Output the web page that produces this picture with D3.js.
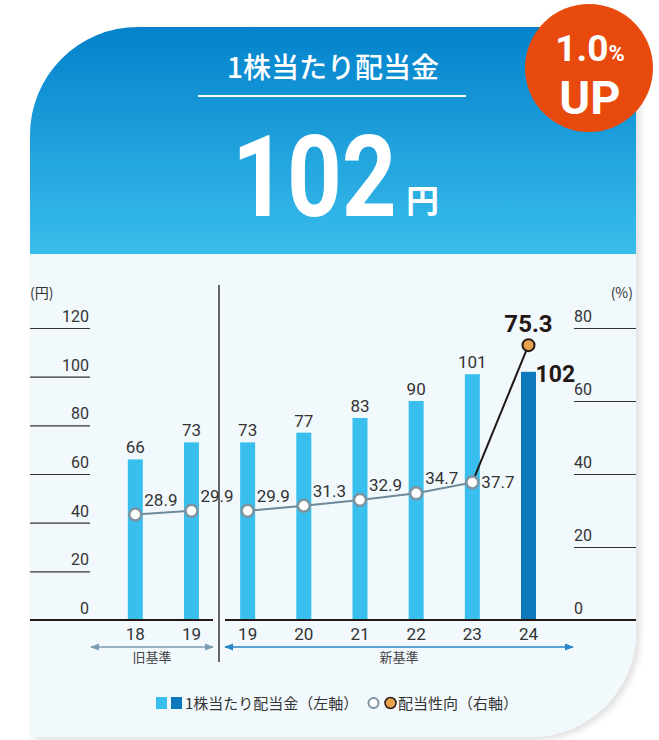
<!DOCTYPE html>
<html>
  <head>
    <meta charset="utf-8">
    <script type="text/javascript" src="https://d3js.org/d3.v7.min.js"></script>
    <title></title>
  </head>
  <style media="screen">
    body { margin: 0; background: #fff; }
    text { font-family: "Noto Sans CJK JP", "Noto Sans", sans-serif; }
    .num { font-family: Roboto, "Noto Sans", sans-serif; }
  </style>
  <body>

    <script type="text/javascript">

    // data
    var years = ["18", "19", "19", "20", "21", "22", "23", "24"];
    var dividend = [66, 73, 73, 77, 83, 90, 101, 102];
    var payout = [28.9, 29.9, 29.9, 31.3, 32.9, 34.7, 37.7, 75.3];
    var leftTicks = [0, 20, 40, 60, 80, 100, 120];
    var rightTicks = [0, 20, 40, 60, 80];
    var oldIdx = [0, 1];
    var newIdx = [2, 3, 4, 5, 6, 7];
    var basisLabels = ["旧基準", "新基準"];

    var width = 659, height = 740;

    var svg = d3.select("body").append("svg")
        .attr("width", width)
        .attr("height", height);

    var defs = svg.append("defs");
    var grad = defs.append("linearGradient")
        .attr("id", "hdr").attr("x1", 0).attr("y1", 0).attr("x2", 0).attr("y2", 1);
    grad.append("stop").attr("offset", "0%").attr("stop-color", "#0382cb");
    grad.append("stop").attr("offset", "100%").attr("stop-color", "#39bdeb");

    var shadow = defs.append("filter").attr("id", "shadow")
        .attr("x", "-5%").attr("y", "-5%").attr("width", "115%").attr("height", "115%");
    shadow.append("feDropShadow")
        .attr("dx", 4).attr("dy", 3).attr("stdDeviation", 3)
        .attr("flood-color", "#000").attr("flood-opacity", 0.12);

    // card outline
    var L = 30, T = 27, R = 636, B = 737, rTL = 108, rBR = 105, hdrB = 254;
    var cardPath = "M" + L + "," + (T + rTL)
      + " A" + rTL + "," + rTL + " 0 0 1 " + (L + rTL) + "," + T
      + " L" + R + "," + T
      + " L" + R + "," + (B - rBR)
      + " A" + rBR + "," + rBR + " 0 0 1 " + (R - rBR) + "," + B
      + " L" + L + "," + B + " Z";

    defs.append("clipPath").attr("id", "cardClip")
      .append("path").attr("d", cardPath);

    svg.append("path").attr("d", cardPath)
        .attr("fill", "#f2f9fd")
        .attr("filter", "url(#shadow)");

    svg.append("rect")
        .attr("x", L).attr("y", T).attr("width", R - L).attr("height", hdrB - T)
        .attr("fill", "url(#hdr)")
        .attr("clip-path", "url(#cardClip)");

    // header text
    svg.append("text")
        .attr("x", 333).attr("y", 78)
        .attr("text-anchor", "middle")
        .attr("fill", "#fff")
        .attr("font-size", 28)
        .attr("font-weight", 500)
        .text("1株当たり配当金");

    svg.append("line")
        .attr("x1", 198).attr("x2", 466).attr("y1", 96).attr("y2", 96)
        .attr("stroke", "#fff").attr("stroke-width", 2);

    svg.append("text")
        .attr("class", "num")
        .attr("transform", "translate(232,216) scale(0.84,1)")
        .attr("fill", "#fff")
        .attr("font-size", 114)
        .attr("font-weight", 700)
        .text(dividend[dividend.length - 1]);

    svg.append("text")
        .attr("x", 406).attr("y", 213)
        .attr("fill", "#fff")
        .attr("font-size", 33)
        .attr("font-weight", 700)
        .text("円");

    // badge
    svg.append("circle")
        .attr("cx", 589).attr("cy", 68).attr("r", 64)
        .attr("fill", "#e84a0e");

    var badge = svg.append("text")
        .attr("class", "num")
        .attr("x", 590).attr("y", 61)
        .attr("text-anchor", "middle")
        .attr("fill", "#fff")
        .attr("font-weight", 700);
    badge.append("tspan").attr("font-size", 37).text("1.0");
    badge.append("tspan").attr("font-size", 22).text("%");

    svg.append("text")
        .attr("class", "num")
        .attr("x", 590).attr("y", 114)
        .attr("text-anchor", "middle")
        .attr("fill", "#fff")
        .attr("font-weight", 700)
        .attr("font-size", 47)
        .text("UP");

    // scales
    var x = d3.scalePoint().domain(d3.range(years.length)).range([135.3, 528.5]);
    var yL = d3.scaleLinear().domain([0, 120]).range([620, 328]);
    var yR = d3.scaleLinear().domain([0, 80]).range([620, 328]);
    var barW = 15;

    // left axis
    var gL = svg.append("g")
        .attr("transform", "translate(90,0)")
        .call(d3.axisLeft(yL).tickValues(leftTicks).tickSize(60));
    gL.select(".domain").remove();
    gL.selectAll(".tick line").attr("stroke", "#333").attr("stroke-width", 1.2);
    gL.selectAll(".tick text")
        .attr("class", "num")
        .attr("x", -1).attr("dy", "-0.4em")
        .attr("fill", "#333").attr("font-size", 16);

    // right axis
    var gR = svg.append("g")
        .attr("transform", "translate(574,0)")
        .call(d3.axisRight(yR).tickValues(rightTicks).tickSize(62));
    gR.select(".domain").remove();
    gR.selectAll(".tick line").attr("stroke", "#333").attr("stroke-width", 1.2);
    gR.selectAll(".tick text")
        .attr("class", "num")
        .attr("x", 0).attr("dy", "-0.4em")
        .attr("fill", "#333").attr("font-size", 16);

    svg.append("text").attr("x", 30).attr("y", 298)
        .attr("fill", "#333").attr("font-size", 14).text("(円)");
    svg.append("text").attr("x", 633).attr("y", 298)
        .attr("text-anchor", "end")
        .attr("fill", "#333").attr("font-size", 14).text("(%)");

    // bars
    svg.selectAll(".bar")
        .data(dividend)
      .enter().append("rect")
        .attr("class", "bar")
        .attr("x", function(d, i) { return x(i) - barW / 2; })
        .attr("y", function(d) { return yL(d); })
        .attr("width", barW)
        .attr("height", function(d) { return yL(0) - yL(d); })
        .attr("fill", function(d, i) { return i == dividend.length - 1 ? "#0e78bd" : "#39bfee"; });

    svg.selectAll(".barlabel")
        .data(dividend)
      .enter().append("text")
        .attr("class", "num")
        .attr("x", function(d, i) { return i == dividend.length - 1 ? x(i) + 7 : x(i); })
        .attr("y", function(d, i) { return i == dividend.length - 1 ? yL(d) + 10 : yL(d) - 6; })
        .attr("text-anchor", function(d, i) { return i == dividend.length - 1 ? "start" : "middle"; })
        .attr("fill", function(d, i) { return i == dividend.length - 1 ? "#231815" : "#333"; })
        .attr("font-size", function(d, i) { return i == dividend.length - 1 ? 23 : 17; })
        .attr("font-weight", function(d, i) { return i == dividend.length - 1 ? 700 : 400; })
        .text(function(d) { return d; });

    // baseline
    svg.append("line").attr("x1", 30).attr("x2", 213).attr("y1", yL(0)).attr("y2", yL(0))
        .attr("stroke", "#231815").attr("stroke-width", 2);
    svg.append("line").attr("x1", 225).attr("x2", 636).attr("y1", yL(0)).attr("y2", yL(0))
        .attr("stroke", "#231815").attr("stroke-width", 2);

    // divider
    svg.append("line").attr("x1", 219).attr("x2", 219).attr("y1", 285).attr("y2", 662)
        .attr("stroke", "#333").attr("stroke-width", 1.5);

    // payout line
    var line = d3.line()
      .x(function(i) { return x(i); })
      .y(function(i) { return yR(payout[i]); });

    var last = payout.length - 1;
    svg.append("path").datum(oldIdx).attr("d", line)
        .attr("fill", "none").attr("stroke", "#6e8a9a").attr("stroke-width", 2);
    svg.append("path").datum(newIdx.slice(0, -1)).attr("d", line)
        .attr("fill", "none").attr("stroke", "#6e8a9a").attr("stroke-width", 2);
    svg.append("path").datum([last - 1, last]).attr("d", line)
        .attr("fill", "none").attr("stroke", "#231815").attr("stroke-width", 2);

    svg.selectAll(".pt")
        .data(payout)
      .enter().append("circle")
        .attr("class", "pt")
        .attr("cx", function(d, i) { return x(i); })
        .attr("cy", function(d) { return yR(d); })
        .attr("r", 6)
        .attr("fill", function(d, i) { return i == last ? "#e9a24d" : "#fff"; })
        .attr("stroke", function(d, i) { return i == last ? "#231815" : "#7d93a0"; })
        .attr("stroke-width", function(d, i) { return i == last ? 2 : 2.5; });

    svg.selectAll(".ptlabel")
        .data(payout)
      .enter().append("text")
        .attr("class", "num")
        .attr("x", function(d, i) { return i == last ? x(i) : x(i) + 9; })
        .attr("y", function(d, i) {
          if (i == last) return yR(d) - 13;
          if (i == last - 1) return yR(d) + 6;
          return yR(d) - 9;
        })
        .attr("text-anchor", function(d, i) { return i == last ? "middle" : "start"; })
        .attr("fill", function(d, i) { return i == last ? "#231815" : "#333"; })
        .attr("font-size", function(d, i) { return i == last ? 24 : 17; })
        .attr("font-weight", function(d, i) { return i == last ? 700 : 400; })
        .text(function(d) { return d.toFixed(1); });

    // year labels
    svg.selectAll(".year")
        .data(years)
      .enter().append("text")
        .attr("class", "num")
        .attr("x", function(d, i) { return x(i); })
        .attr("y", 640)
        .attr("text-anchor", "middle")
        .attr("fill", "#333").attr("font-size", 17)
        .text(function(d) { return d; });

    // basis arrows
    function marker(id, color) {
      defs.append("marker").attr("id", id)
          .attr("viewBox", "0 0 10 10").attr("refX", 9).attr("refY", 5)
          .attr("markerWidth", 7).attr("markerHeight", 7)
          .attr("orient", "auto-start-reverse")
        .append("path").attr("d", "M0,1 L10,5 L0,9 Z").attr("fill", color);
    }
    marker("arrOld", "#7b9bb0");
    marker("arrNew", "#2a87c8");

    var arrows = [
      {x1: 91, x2: 213, color: "#7b9bb0", m: "arrOld", label: basisLabels[0]},
      {x1: 225, x2: 573, color: "#2a87c8", m: "arrNew", label: basisLabels[1]}
    ];
    arrows.forEach(function(a) {
      svg.append("line")
          .attr("x1", a.x1).attr("x2", a.x2).attr("y1", 647).attr("y2", 647)
          .attr("stroke", a.color).attr("stroke-width", 1.3)
          .attr("marker-start", "url(#" + a.m + ")")
          .attr("marker-end", "url(#" + a.m + ")");
      svg.append("text")
          .attr("x", (a.x1 + a.x2) / 2).attr("y", 662)
          .attr("text-anchor", "middle")
          .attr("fill", "#444").attr("font-size", 13)
          .text(a.label);
    });

    // legend
    var lg = svg.append("g");
    lg.append("rect").attr("x", 156).attr("y", 697).attr("width", 11).attr("height", 12).attr("fill", "#39bfee");
    lg.append("rect").attr("x", 171).attr("y", 697).attr("width", 11).attr("height", 12).attr("fill", "#0e78bd");
    lg.append("text").attr("x", 185).attr("y", 709)
        .attr("fill", "#333").attr("font-size", 15).text("1株当たり配当金（左軸）");
    lg.append("circle").attr("cx", 373.5).attr("cy", 703).attr("r", 5)
        .attr("fill", "#fff").attr("stroke", "#7d93a0").attr("stroke-width", 2);
    lg.append("circle").attr("cx", 390.5).attr("cy", 703).attr("r", 5.5)
        .attr("fill", "#e9a24d").attr("stroke", "#231815").attr("stroke-width", 1.5);
    lg.append("text").attr("x", 398).attr("y", 709)
        .attr("fill", "#333").attr("font-size", 15).text("配当性向（右軸）");

    </script>

  </body>
</html>
